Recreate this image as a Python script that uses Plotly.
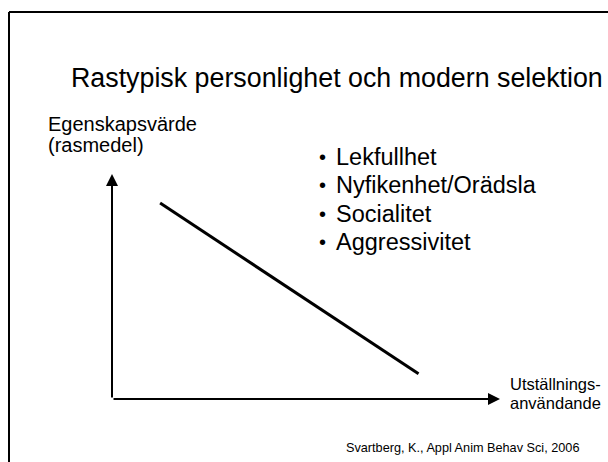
import plotly.graph_objects as go

# ---- data / text ----
title_text = "Rastypisk personlighet och modern selektion"
y_label_lines = ["Egenskapsvärde", "(rasmedel)"]
x_label_lines = ["Utställnings-", "användande"]
traits = ["Lekfullhet", "Nyfikenhet/Orädsla", "Socialitet", "Aggressivitet"]
citation = "Svartberg, K., Appl Anim Behav Sci, 2006"

# conceptual trend: show use (x) vs breed-typical trait value (y)
show_use = [0.124, 0.79]
trait_value = [0.871, 0.112]

W, H = 608, 462
FONT = "Liberation Sans, Arial, sans-serif"


def px(x):
    return x / W


def py(y):
    return 1 - y / H


fig = go.Figure()
fig.add_trace(go.Scatter(x=show_use, y=trait_value, mode="lines",
                         line=dict(color="black", width=3),
                         hoverinfo="skip", showlegend=False))

# plotting area mapped to the axis box
ax_left, ax_right, ax_bottom, ax_top = 112, 500, 399, 174
fig.update_layout(
    width=W, height=H,
    margin=dict(l=0, r=0, t=0, b=0),
    paper_bgcolor="white", plot_bgcolor="white",
    xaxis=dict(domain=[px(ax_left), px(ax_right)], range=[0, 1],
               showgrid=False, zeroline=False, showticklabels=False,
               showline=False, ticks="", fixedrange=True),
    yaxis=dict(domain=[py(ax_bottom), py(ax_top)], range=[0, 1],
               showgrid=False, zeroline=False, showticklabels=False,
               showline=False, ticks="", fixedrange=True),
    showlegend=False,
    font=dict(family=FONT, color="black"),
)

annotations = []
# axes with arrowheads
annotations.append(dict(x=1, y=0, xref="x", yref="y", ax=0, ay=0,
                        axref="x", ayref="y", text="", showarrow=True,
                        arrowhead=2, arrowsize=1.2, arrowwidth=2,
                        arrowcolor="black"))
annotations.append(dict(x=0, y=1, xref="x", yref="y", ax=0, ay=0,
                        axref="x", ayref="y", text="", showarrow=True,
                        arrowhead=2, arrowsize=1.2, arrowwidth=2,
                        arrowcolor="black"))


def txt(text, x, y, size, xanchor="left"):
    annotations.append(dict(text=text, x=px(x), y=py(y), xref="paper",
                            yref="paper", xanchor=xanchor, yanchor="middle",
                            showarrow=False,
                            font=dict(family=FONT, size=size, color="black")))


txt(title_text, 69, 78, 26.8)
txt(y_label_lines[0], 46, 124, 20)
txt(y_label_lines[1], 46, 144.5, 20)
for i, t in enumerate(traits):
    yy = 157 + 28.3 * i
    txt("•", 317, yy, 20)
    txt(t, 334, yy, 23.5)
txt(x_label_lines[0], 508, 383.5, 16.5)
txt(x_label_lines[1], 508, 402.5, 16.5)
txt(citation, 344, 448, 12.7)

fig.update_layout(annotations=annotations)

# slide border
fig.add_shape(type="line", xref="paper", yref="paper",
              x0=px(9), x1=px(9), y0=0, y1=py(12),
              line=dict(color="black", width=2))
fig.add_shape(type="line", xref="paper", yref="paper",
              x0=px(9), x1=1, y0=py(12), y1=py(12),
              line=dict(color="black", width=2))

fig.write_html("out.html", config={"displayModeBar": False},
               post_script="document.body.style.margin='0';")
